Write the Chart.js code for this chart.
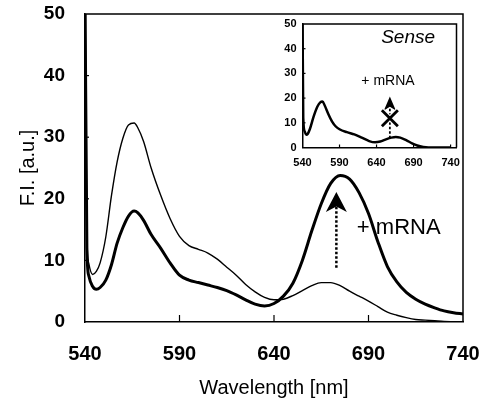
<!DOCTYPE html>
<html lang="en">
<head>
<meta charset="UTF-8">
<title>F.I. spectra</title>
<script src="https://cdn.jsdelivr.net/npm/chart.js"></script>
<style>
  body { margin: 0; background: #fff; }
  #wrap { position: relative; width: 482px; height: 402px; }
  #mainChart { position: absolute; left: 0; top: 0; }
  #insetChart { position: absolute; left: 262px; top: 8px; }
</style>
</head>
<body>
<div id="wrap">
  <canvas id="mainChart" width="482" height="402"></canvas>
  <canvas id="insetChart" width="200" height="165"></canvas>
</div>
<script>
// main spectra
const wavelength = [540, 541, 542, 544, 546, 548, 551, 554, 557, 560, 563, 566, 568, 571, 575, 580, 585, 590, 595, 600,
  605, 610, 615, 620, 625, 630, 635, 640, 645, 650, 655, 660, 665, 670, 675, 680, 685, 690, 695, 700,
  705, 710, 715, 720, 725, 730, 735, 740];
const probeOnly = [55, 14, 9.5, 7.7, 8.2, 9.6, 13.8, 20.5, 26, 29.8, 32, 32.3, 31.5, 29.3, 25, 20.6, 16.8, 13.9, 12.4, 11.8,
  11.2, 10.2, 8.9, 7.6, 6.1, 4.9, 4.0, 3.6, 3.7, 4.3, 5.1, 5.9, 6.4, 6.4, 5.9, 5.0, 4.2, 3.4, 2.5, 1.6,
  1.1, 0.7, 0.4, 0.3, 0.2, 0.1, 0.05, 0];
const plusMRNA = [55, 12, 7.5, 5.8, 5.3, 5.6, 6.8, 9.3, 12.8, 15.3, 17.2, 18.0, 17.7, 16.5, 14.2, 12.0, 9.6, 7.6, 6.8, 6.4,
  6.0, 5.6, 5.1, 4.4, 3.6, 2.9, 2.6, 3.0, 4.2, 6.3, 10.0, 14.8, 19.2, 22.5, 23.8, 23.2, 21.0, 17.6, 13.0, 9.0,
  6.5, 4.8, 3.7, 2.9, 2.3, 1.8, 1.5, 1.3];
const xTicks = [540, 590, 640, 690, 740];
const yTicks = [0, 10, 20, 30, 40, 50];

// inset "Sense"
const insetWavelength = [540, 541, 543, 545, 547, 550, 555, 560, 564, 567, 570, 575, 580, 585, 590, 600, 610, 620, 630, 638,
  645, 652, 660, 666, 672, 680, 688, 695, 703, 710, 740];
const insetSense = [55, 12, 6.5, 5.2, 5.5, 7.5, 12.5, 16.5, 18.3, 18.6, 17, 13.5, 10.5, 8.5, 7.4, 6.2, 5.3, 4.0, 2.6, 2.1,
  2.4, 3.2, 4.0, 4.3, 4.0, 3.0, 1.7, 0.8, 0.2, 0, 0];

// annotation anchors in data units
const mainArrow = { x: 673, from: 8.8, to: 21.1 };
const mainLabel = { x: 706, y: 15.3, text: '+ mRNA' };
const insetArrow = { x: 658, from: 3.7, to: 20.6, cross: 11.8 };
const insetTitle = { x: 682.6, y: 44.3, text: 'Sense' };
const insetLabel = { x: 655.5, y: 26.9, text: '+ mRNA' };

function pts(xs, ys) {
  return xs.map((x, i) => ({ x: x, y: ys[i] }));
}

Chart.defaults.font.family = 'Arial, "Liberation Sans", sans-serif';
Chart.defaults.color = '#000';

// fixed axis box, no auto padding from the tick labels
function fixX(h) {
  return s => { s.height = h; s.paddingLeft = 0; s.paddingRight = 0; };
}
function fixY(w) {
  return s => { s.width = w; s.paddingTop = 0; s.paddingBottom = 0; };
}

function drawArrow(ctx, px, yBottom, yTip, headW, headH, lw) {
  ctx.save();
  ctx.strokeStyle = '#000';
  ctx.fillStyle = '#000';
  ctx.lineWidth = lw;
  ctx.setLineDash([2.5, 2]);
  ctx.beginPath();
  ctx.moveTo(px, yBottom);
  ctx.lineTo(px, yTip + headH * 0.7);
  ctx.stroke();
  ctx.setLineDash([]);
  ctx.beginPath();
  ctx.moveTo(px, yTip);
  ctx.lineTo(px + headW / 2, yTip + headH);
  ctx.lineTo(px, yTip + headH * 0.72);
  ctx.lineTo(px - headW / 2, yTip + headH);
  ctx.closePath();
  ctx.fill();
  ctx.restore();
}

function drawFrame(ctx, a, xs, ys, xt, yt, tx, ty) {
  ctx.strokeStyle = '#000';
  ctx.lineWidth = 1.5;
  ctx.beginPath();
  ctx.moveTo(a.left, a.top);
  ctx.lineTo(a.right, a.top);
  ctx.lineTo(a.right, a.bottom);
  ctx.stroke();
  ctx.lineWidth = 1.2;
  xt.forEach(v => {
    const px = xs.getPixelForValue(v);
    if (px <= a.left + 1 || px >= a.right - 1) return;
    ctx.beginPath();
    ctx.moveTo(px, a.bottom);
    ctx.lineTo(px, a.bottom - tx);
    ctx.stroke();
  });
  yt.forEach(v => {
    const py = ys.getPixelForValue(v);
    if (py <= a.top + 1 || py >= a.bottom - 1) return;
    ctx.beginPath();
    ctx.moveTo(a.left, py);
    ctx.lineTo(a.left + ty, py);
    ctx.stroke();
  });
}

const mainDecor = {
  id: 'mainDecor',
  afterDatasetsDraw(chart) {
    const { ctx, chartArea: a, scales: { x, y } } = chart;
    ctx.save();
    drawFrame(ctx, a, x, y, xTicks, yTicks, 7, 4);
    drawArrow(ctx, x.getPixelForValue(mainArrow.x), y.getPixelForValue(mainArrow.from),
      y.getPixelForValue(mainArrow.to), 21, 20, 2.5);
    ctx.fillStyle = '#000';
    ctx.font = '22px Arial, "Liberation Sans", sans-serif';
    ctx.textAlign = 'center';
    ctx.textBaseline = 'middle';
    ctx.fillText(mainLabel.text, x.getPixelForValue(mainLabel.x), y.getPixelForValue(mainLabel.y));
    ctx.restore();
  }
};

const insetDecor = {
  id: 'insetDecor',
  afterDatasetsDraw(chart) {
    const { ctx, chartArea: a, scales: { x, y } } = chart;
    ctx.save();
    drawFrame(ctx, a, x, y, xTicks, yTicks, 3, 3);
    const px = x.getPixelForValue(insetArrow.x);
    drawArrow(ctx, px, y.getPixelForValue(insetArrow.from), y.getPixelForValue(insetArrow.to), 12, 14, 1.8);
    // the cross over the arrow
    const cy = y.getPixelForValue(insetArrow.cross);
    [['#fff', 5], ['#000', 2.8]].forEach(([c, w]) => {
      ctx.strokeStyle = c;
      ctx.lineWidth = w;
      ctx.beginPath();
      ctx.moveTo(px - 8, cy - 8); ctx.lineTo(px + 8, cy + 8);
      ctx.moveTo(px + 8, cy - 8); ctx.lineTo(px - 8, cy + 8);
      ctx.stroke();
    });
    ctx.fillStyle = '#000';
    ctx.textAlign = 'center';
    ctx.textBaseline = 'middle';
    ctx.font = 'italic 19px Arial, "Liberation Sans", sans-serif';
    ctx.fillText(insetTitle.text, x.getPixelForValue(insetTitle.x), y.getPixelForValue(insetTitle.y));
    ctx.font = '14px Arial, "Liberation Sans", sans-serif';
    ctx.fillText(insetLabel.text, x.getPixelForValue(insetLabel.x), y.getPixelForValue(insetLabel.y));
    ctx.restore();
  }
};

new Chart(document.getElementById('mainChart'), {
  type: 'line',
  data: {
    datasets: [
      { label: 'probe', data: pts(wavelength, probeOnly), borderColor: '#000', borderWidth: 1.4,
        pointRadius: 0, cubicInterpolationMode: 'monotone', fill: false },
      { label: '+ mRNA', data: pts(wavelength, plusMRNA), borderColor: '#000', borderWidth: 3,
        pointRadius: 0, cubicInterpolationMode: 'monotone', fill: false }
    ]
  },
  options: {
    responsive: false,
    animation: false,
    devicePixelRatio: 1,
    layout: { padding: { top: 14, right: 19, bottom: 0, left: 0 } },
    plugins: { legend: { display: false }, tooltip: { enabled: false } },
    scales: {
      x: {
        type: 'linear', min: 540, max: 740,
        grid: { display: false, drawTicks: false },
        border: { color: '#000', width: 1.5 },
        afterBuildTicks: s => { s.ticks = xTicks.map(v => ({ value: v })); },
        afterFit: fixX(80),
        ticks: { padding: 20, color: '#000', font: { size: 20, weight: 'bold' }, maxRotation: 0 },
        title: { display: true, text: 'Wavelength [nm]', color: '#000', font: { size: 20 }, padding: { top: 0, bottom: 2 } }
      },
      y: {
        type: 'linear', min: 0, max: 50,
        grid: { display: false, drawTicks: false },
        border: { color: '#000', width: 1.5 },
        afterBuildTicks: s => { s.ticks = yTicks.map(v => ({ value: v })); },
        afterFit: fixY(85),
        ticks: { padding: 20, color: '#000', font: { size: 19, weight: 'bold' } },
        title: { display: true, text: 'F.I. [a.u.]', color: '#000', font: { size: 20 }, padding: { top: 16, bottom: 0 } }
      }
    }
  },
  plugins: [mainDecor]
});

new Chart(document.getElementById('insetChart'), {
  type: 'line',
  data: {
    datasets: [
      { label: 'Sense', data: pts(insetWavelength, insetSense), borderColor: '#000', borderWidth: 2.5,
        pointRadius: 0, cubicInterpolationMode: 'monotone', fill: false }
    ]
  },
  options: {
    responsive: false,
    animation: false,
    devicePixelRatio: 1,
    layout: { padding: { top: 16, right: 5.5, bottom: 0, left: 0 } },
    plugins: { legend: { display: false }, tooltip: { enabled: false } },
    scales: {
      x: {
        type: 'linear', min: 540, max: 748,
        grid: { display: false, drawTicks: false },
        border: { color: '#000', width: 1.5 },
        afterBuildTicks: s => { s.ticks = xTicks.map(v => ({ value: v })); },
        afterFit: fixX(25.5),
        ticks: { padding: 8.4, color: '#000', font: { size: 11, weight: 'bold' }, maxRotation: 0 }
      },
      y: {
        type: 'linear', min: 0, max: 50,
        grid: { display: false, drawTicks: false },
        border: { color: '#000', width: 1.5 },
        afterBuildTicks: s => { s.ticks = yTicks.map(v => ({ value: v })); },
        afterFit: fixY(40.5),
        ticks: { padding: 6, color: '#000', font: { size: 11, weight: 'bold' } }
      }
    }
  },
  plugins: [insetDecor]
});
</script>
</body>
</html>
